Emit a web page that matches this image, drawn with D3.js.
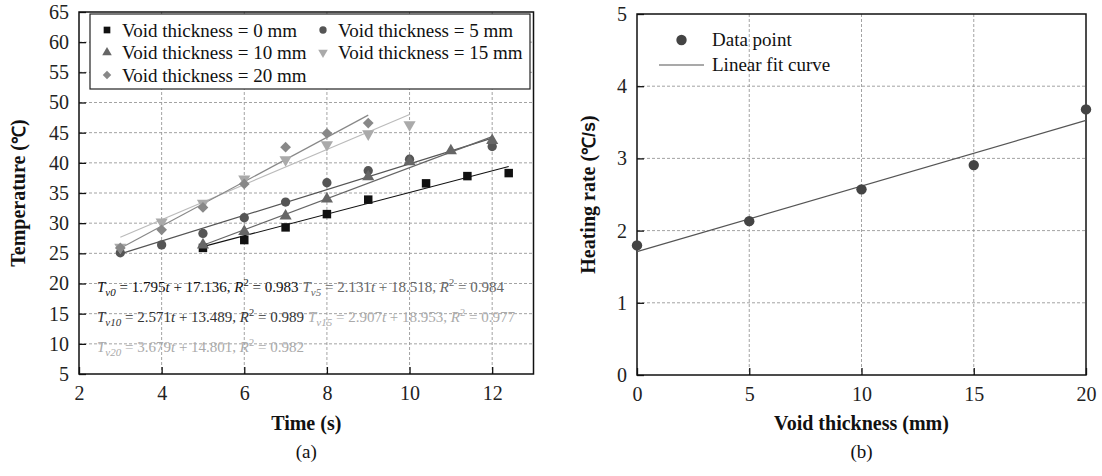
<!DOCTYPE html>
<html>
<head>
<meta charset="utf-8">
<script src="https://cdn.jsdelivr.net/npm/d3@7"></script>
<style>
  body { margin: 0; background: #fff; }
  svg { display: block; }
  text { font-family: "Liberation Serif", "Times New Roman", serif; }
</style>
</head>
<body>
<svg id="chart" width="1102" height="476"></svg>
<script>
// ---- data, panel (a): temperature vs time for each void thickness ----
const voidThickness = [0, 5, 10, 15, 20];

const timeV0  = [5, 6, 7, 8, 9, 10.4, 11.4, 12.4];
const tempV0  = [25.9, 27.2, 29.3, 31.5, 33.9, 36.6, 37.8, 38.3];
const timeV5  = [3, 4, 5, 6, 7, 8, 9, 10, 12];
const tempV5  = [25.1, 26.4, 28.3, 30.9, 33.5, 36.7, 38.7, 40.6, 42.7];
const timeV10 = [5, 6, 7, 8, 9, 10, 11, 12];
const tempV10 = [26.4, 28.6, 31.2, 34.0, 37.7, 40.2, 42.0, 43.7];
const timeV15 = [3, 4, 5, 6, 7, 8, 9, 10];
const tempV15 = [26.0, 30.2, 33.3, 37.3, 40.5, 43.0, 44.8, 46.3];
const timeV20 = [3, 4, 5, 6, 7, 8, 9];
const tempV20 = [25.9, 28.9, 32.6, 36.5, 42.6, 44.9, 46.6];

// linear fits T = a*t + b
const fitSlope     = [1.795, 2.131, 2.571, 2.907, 3.679];
const fitIntercept = [17.136, 18.518, 13.489, 18.953, 14.801];
const fitR2        = [0.983, 0.984, 0.989, 0.977, 0.982];
const fitStart     = [5, 3, 5, 3, 3];
const fitEnd       = [12.4, 12, 12, 10, 9];

const timeTicks = [2, 4, 6, 8, 10, 12];
const tempTicks = [5, 10, 15, 20, 25, 30, 35, 40, 45, 50, 55, 60, 65];

// ---- data, panel (b): heating rate vs void thickness ----
const heatingRate = [1.795, 2.131, 2.571, 2.907, 3.679];
const rateFitSlope = 0.0909;
const rateFitIntercept = 1.708;
const thickTicks = [0, 5, 10, 15, 20];
const rateTicks = [0, 1, 2, 3, 4, 5];

// styles
const markerColor = ['#111', '#555', '#666', '#aaa', '#888'];
const lineColor   = ['#111', '#555', '#666', '#bbb', '#888'];
const eqColor     = ['#111', '#666', '#333', '#aaa', '#aaa'];
const markerType  = [d3.symbolSquare, d3.symbolCircle, d3.symbolTriangle, d3.symbolTriangle, d3.symbolSquare];
const markerRot   = [0, 0, 0, 180, 45];
const markerSize  = [72, 68, 64, 64, 58];
const seriesT = [timeV0, timeV5, timeV10, timeV15, timeV20];
const seriesY = [tempV0, tempV5, tempV10, tempV15, tempV20];

const svg = d3.select('#chart');
svg.append('rect').attr('width', 1102).attr('height', 476).attr('fill', '#fff');

// draw frame, gridlines and axes for a panel
function drawFrame(x, y, xTicks, yTicks) {
    const [x0, x1] = x.range();
    const [y0, y1] = y.range();

    const grid = svg.append('g');
    grid.selectAll('.vg')
        .data(xTicks.filter(d => x(d) > x0 + 1 && x(d) < x1 - 1))
        .join('line')
        .attr('x1', d => x(d)).attr('x2', d => x(d))
        .attr('y1', y1).attr('y2', y0)
        .attr('stroke', '#999').attr('stroke-width', 0.9)
        .attr('stroke-dasharray', '3,2');
    grid.selectAll('.hg')
        .data(yTicks.filter(d => y(d) < y0 - 1 && y(d) > y1 + 1))
        .join('line')
        .attr('x1', x0).attr('x2', x1)
        .attr('y1', d => y(d)).attr('y2', d => y(d))
        .attr('stroke', '#999').attr('stroke-width', 0.9)
        .attr('stroke-dasharray', '3,2');

    const xAxis = svg.append('g')
        .attr('transform', `translate(0,${y0})`)
        .call(d3.axisBottom(x).tickValues(xTicks).tickFormat(d3.format('d'))
            .tickSizeInner(-7).tickSizeOuter(0).tickPadding(12));
    const yAxis = svg.append('g')
        .attr('transform', `translate(${x0},0)`)
        .call(d3.axisLeft(y).tickValues(yTicks).tickFormat(d3.format('d'))
            .tickSizeInner(-7).tickSizeOuter(0).tickPadding(10));

    [xAxis, yAxis].forEach(a => {
        a.attr('font-family', '"Liberation Serif", serif').attr('font-size', 20);
        a.select('.domain').remove();
        a.selectAll('.tick line').attr('stroke', '#111').attr('stroke-width', 1.3);
        a.selectAll('.tick text').attr('fill', '#222');
    });

    svg.append('rect')
        .attr('x', x0).attr('y', y1)
        .attr('width', x1 - x0).attr('height', y0 - y1)
        .attr('fill', 'none').attr('stroke', '#111').attr('stroke-width', 1.5);
}

// ================= panel (a) =================
const xA = d3.scaleLinear().domain([2, 13]).range([79, 533.5]);
const yA = d3.scaleLinear().domain([5, 65]).range([374, 12]);

drawFrame(xA, yA, timeTicks, tempTicks);

// fit lines
svg.append('g').selectAll('line')
    .data(voidThickness)
    .join('line')
    .attr('x1', (d, i) => xA(fitStart[i]))
    .attr('x2', (d, i) => xA(fitEnd[i]))
    .attr('y1', (d, i) => yA(fitSlope[i] * fitStart[i] + fitIntercept[i]))
    .attr('y2', (d, i) => yA(fitSlope[i] * fitEnd[i] + fitIntercept[i]))
    .attr('stroke', (d, i) => lineColor[i])
    .attr('stroke-width', 1.2);

// markers
voidThickness.forEach((v, i) => {
    svg.append('g').selectAll('path')
        .data(seriesT[i].map((t, j) => [t, seriesY[i][j]]))
        .join('path')
        .attr('d', d3.symbol().type(markerType[i]).size(markerSize[i]))
        .attr('transform', d => `translate(${xA(d[0])},${yA(d[1])}) rotate(${markerRot[i]})`)
        .attr('fill', markerColor[i]);
});

// legend
const legA = svg.append('g');
legA.append('rect')
    .attr('x', 90).attr('y', 14).attr('width', 440).attr('height', 75)
    .attr('fill', '#fff').attr('stroke', '#222').attr('stroke-width', 1.2);
const legPos = [[107, 30], [323, 30], [107, 52.5], [323, 52.5], [107, 75]];
voidThickness.forEach((v, i) => {
    const [lx, ly] = legPos[i];
    legA.append('path')
        .attr('d', d3.symbol().type(markerType[i]).size(markerSize[i] * 0.62))
        .attr('transform', `translate(${lx},${ly}) rotate(${markerRot[i]})`)
        .attr('fill', markerColor[i]);
    legA.append('text')
        .attr('x', lx + 15).attr('y', ly + 6.5)
        .attr('fill', '#111')
        .style('font-size', '19px')
        .text(`Void thickness = ${v} mm`);
});

// fit equations
function equation(i, x, y) {
    const t = svg.append('text')
        .attr('x', x).attr('y', y)
        .attr('fill', eqColor[i])
        .style('font-size', '15px');
    t.append('tspan').style('font-style', 'italic').text('T');
    t.append('tspan').style('font-style', 'italic').style('font-size', '11px').attr('dy', 4).text('v' + voidThickness[i]);
    t.append('tspan').attr('dy', -4).text(' = ' + fitSlope[i].toFixed(3));
    t.append('tspan').style('font-style', 'italic').text('t');
    t.append('tspan').text(' + ' + fitIntercept[i].toFixed(3) + ', ');
    t.append('tspan').style('font-style', 'italic').text('R');
    t.append('tspan').style('font-size', '10.5px').attr('dy', -6).text('2');
    t.append('tspan').attr('dy', 6).text(' = ' + fitR2[i].toFixed(3));
    return t;
}
const eqRows = [[0, 1], [2, 3], [4]];
const eqBase = [20, 15, 10];
eqRows.forEach((row, r) => {
    let x = 97;
    row.forEach(i => {
        const t = equation(i, x, yA(eqBase[r]) + 8);
        x += t.node().getComputedTextLength() + 4;
    });
});

// axis titles
const degA = svg.append('text')
    .attr('transform', `translate(25,${(yA.range()[0] + yA.range()[1]) / 2}) rotate(-90)`)
    .attr('text-anchor', 'middle')
    .attr('fill', '#111')
    .style('font-size', '20px').style('font-weight', 'bold');
degA.append('tspan').text('Temperature (');
degA.append('tspan').style('font-family', '"Liberation Sans", sans-serif').style('font-size', '18px').text('℃');
degA.append('tspan').text(')');

svg.append('text')
    .attr('x', (xA.range()[0] + xA.range()[1]) / 2).attr('y', 430)
    .attr('text-anchor', 'middle').attr('fill', '#111')
    .style('font-size', '20px').style('font-weight', 'bold')
    .text('Time (s)');
svg.append('text')
    .attr('x', (xA.range()[0] + xA.range()[1]) / 2).attr('y', 458)
    .attr('text-anchor', 'middle').attr('fill', '#111')
    .style('font-size', '19px')
    .text('(a)');

// ================= panel (b) =================
const xB = d3.scaleLinear().domain([0, 20]).range([637, 1086]);
const yB = d3.scaleLinear().domain([0, 5]).range([375, 14]);

drawFrame(xB, yB, thickTicks, rateTicks);

svg.append('line')
    .attr('x1', xB(0)).attr('x2', xB(20))
    .attr('y1', yB(rateFitIntercept)).attr('y2', yB(rateFitIntercept + rateFitSlope * 20))
    .attr('stroke', '#555').attr('stroke-width', 1.2);

svg.append('g').selectAll('circle')
    .data(voidThickness.map((v, i) => [v, heatingRate[i]]))
    .join('circle')
    .attr('cx', d => xB(d[0])).attr('cy', d => yB(d[1]))
    .attr('r', 5.2)
    .attr('fill', '#444');

// legend (b)
svg.append('circle').attr('cx', 681.5).attr('cy', 40).attr('r', 5.2).attr('fill', '#444');
svg.append('text').attr('x', 712).attr('y', 46).attr('fill', '#111')
    .style('font-size', '19px').text('Data point');
svg.append('line').attr('x1', 659).attr('x2', 704).attr('y1', 65).attr('y2', 65)
    .attr('stroke', '#555').attr('stroke-width', 1.2);
svg.append('text').attr('x', 712).attr('y', 71).attr('fill', '#111')
    .style('font-size', '19px').text('Linear fit curve');

const degB = svg.append('text')
    .attr('transform', `translate(595,${(yB.range()[0] + yB.range()[1]) / 2}) rotate(-90)`)
    .attr('text-anchor', 'middle')
    .attr('fill', '#111')
    .style('font-size', '20px').style('font-weight', 'bold');
degB.append('tspan').text('Heating rate (');
degB.append('tspan').style('font-family', '"Liberation Sans", sans-serif').style('font-size', '18px').text('℃/s');
degB.append('tspan').text(')');

svg.append('text')
    .attr('x', (xB.range()[0] + xB.range()[1]) / 2).attr('y', 430)
    .attr('text-anchor', 'middle').attr('fill', '#111')
    .style('font-size', '20px').style('font-weight', 'bold')
    .text('Void thickness (mm)');
svg.append('text')
    .attr('x', (xB.range()[0] + xB.range()[1]) / 2).attr('y', 458)
    .attr('text-anchor', 'middle').attr('fill', '#111')
    .style('font-size', '19px')
    .text('(b)');
</script>
</body>
</html>
